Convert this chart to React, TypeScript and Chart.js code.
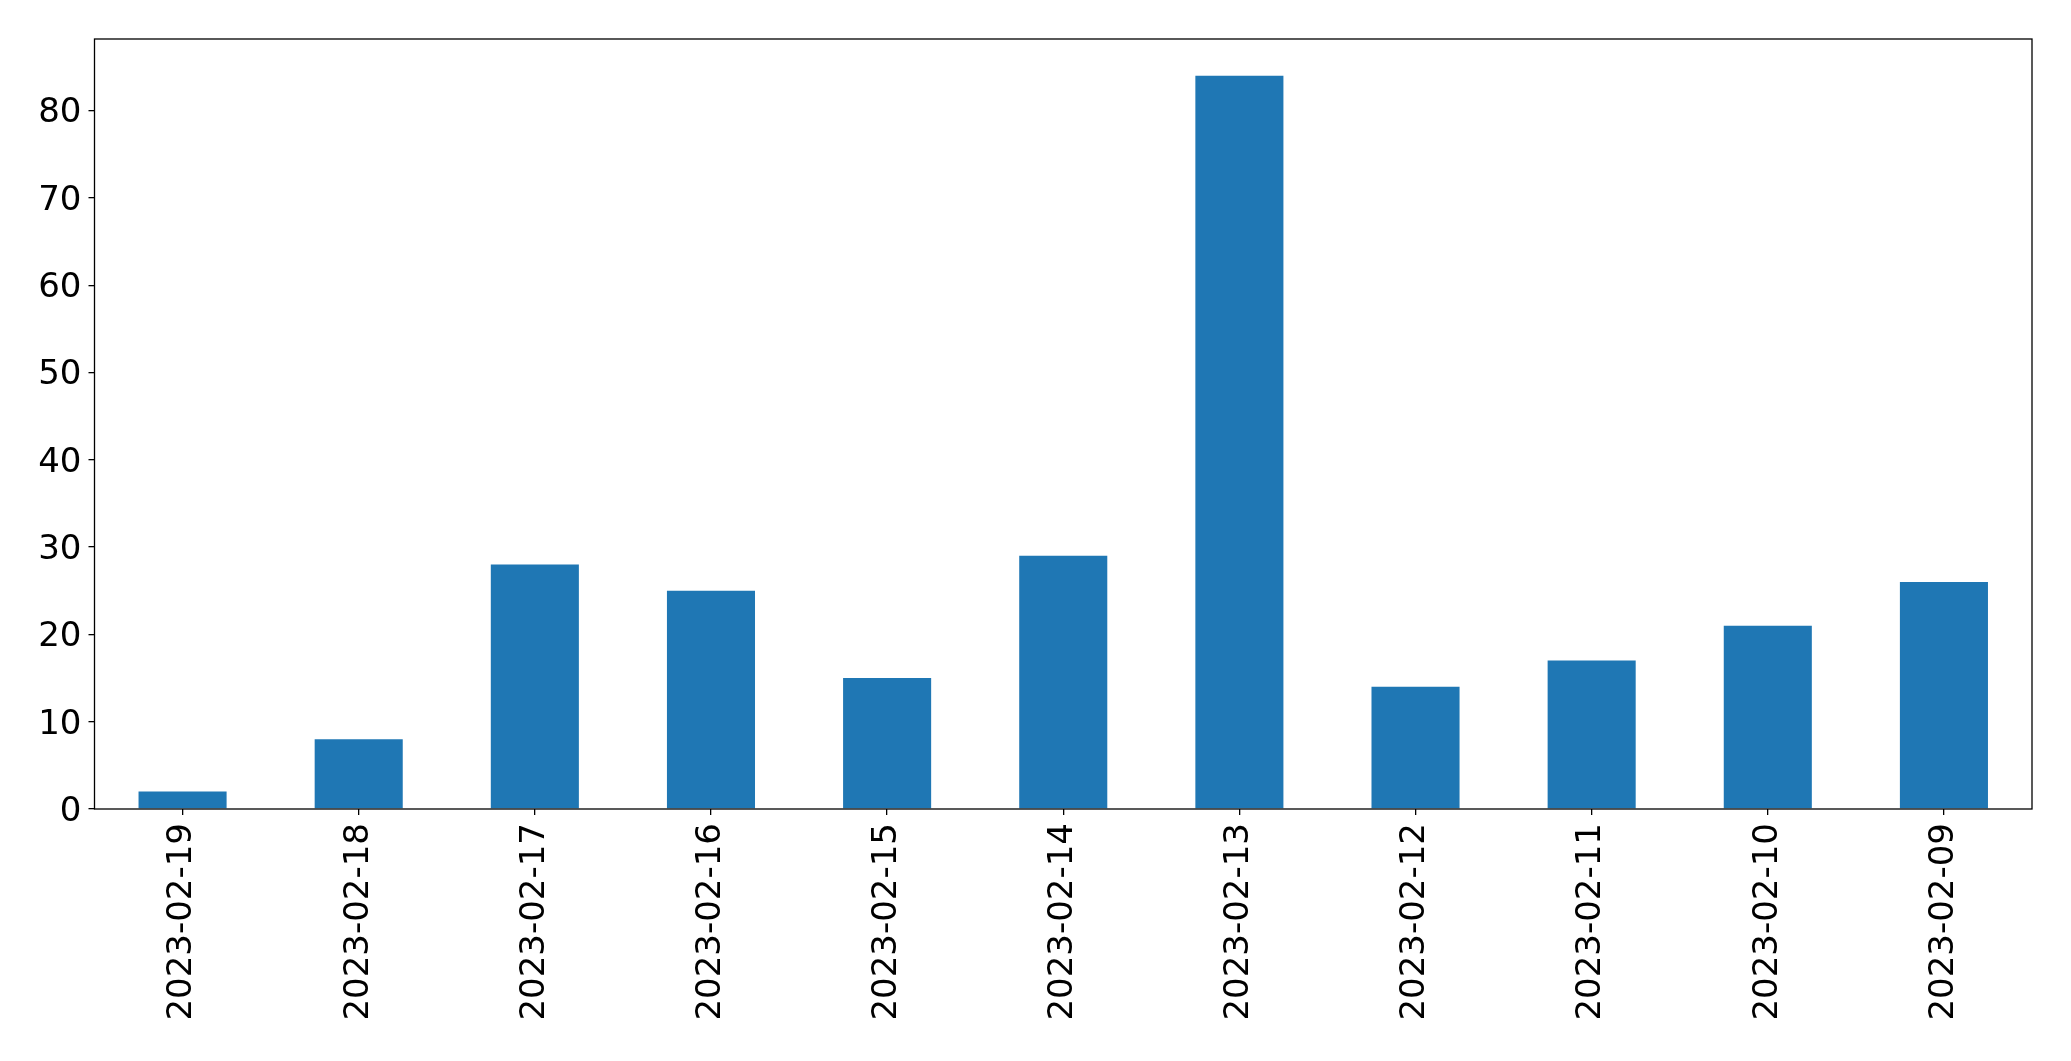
import React, { useEffect, useRef } from "react";
import { Chart, registerables } from "chart.js";

Chart.register(...registerables);

const categories = [
  "2023-02-19", "2023-02-18", "2023-02-17", "2023-02-16", "2023-02-15", "2023-02-14",
  "2023-02-13", "2023-02-12", "2023-02-11", "2023-02-10", "2023-02-09",
];
const values = [2, 8, 28, 25, 15, 29, 84, 14, 17, 21, 26];
const yMax = 88.2;
const yStep = 10;

const frame = {
  id: "frame",
  afterDraw(chart: any) {
    const { ctx, chartArea: a } = chart;
    ctx.save();
    ctx.strokeStyle = "#000";
    ctx.lineWidth = 1.3;
    ctx.strokeRect(a.left, a.top, a.right - a.left, a.bottom - a.top);
    ctx.restore();
  },
};

export default function App() {
  const ref = useRef<HTMLCanvasElement>(null);
  useEffect(() => {
    const font = { family: "'DejaVu Sans'", size: 34 };
    const chart = new Chart(ref.current!, {
      type: "bar",
      data: {
        labels: categories,
        datasets: [
          {
            data: values,
            backgroundColor: "#1f77b4",
            categoryPercentage: 1,
            barPercentage: 0.5,
          },
        ],
      },
      options: {
        animation: false,
        responsive: false,
        maintainAspectRatio: false,
        layout: { padding: { top: 39, right: 39, left: 0, bottom: 0 } },
        plugins: { legend: { display: false }, tooltip: { enabled: false } },
        scales: {
          x: {
            offset: true,
            grid: {
              offset: false,
              drawOnChartArea: false,
              drawTicks: true,
              tickLength: 6,
              color: "#000",
              lineWidth: 1.3,
            },
            border: { display: false },
            ticks: {
              color: "#000",
              font,
              minRotation: 90,
              maxRotation: 90,
              padding: 8,
              autoSkip: false,
            },
            afterFit(scale: any) {
              scale.height = 252;
            },
          },
          y: {
            min: 0,
            max: yMax,
            grid: {
              drawOnChartArea: false,
              drawTicks: true,
              tickLength: 6,
              color: "#000",
              lineWidth: 1.3,
            },
            border: { display: false },
            ticks: {
              color: "#000",
              font,
              stepSize: yStep,
              includeBounds: false,
              padding: 7,
              labelOffset: 3,
            },
            afterFit(scale: any) {
              scale.width = 94.5;
            },
          },
        },
      },
      plugins: [frame],
    });
    return () => chart.destroy();
  }, []);
  return (
    <div style={{ position: "absolute", left: 0, top: 0, width: 2071, height: 1061, background: "#fff" }}>
      <canvas ref={ref} width={2071} height={1061} style={{ width: 2071, height: 1061 }} />
    </div>
  );
}
